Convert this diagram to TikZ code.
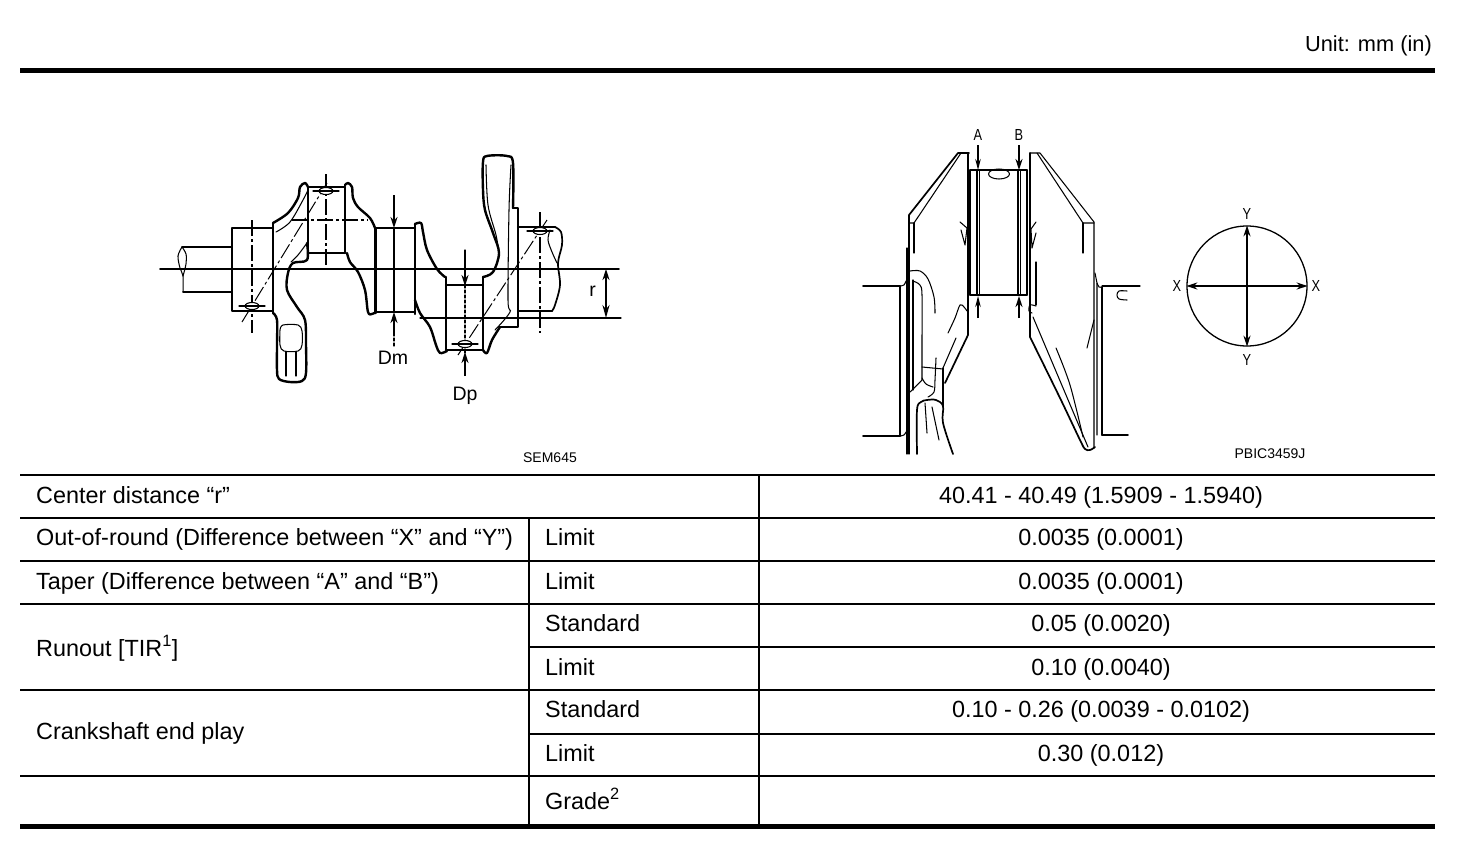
\documentclass[tikz,border=0pt]{standalone}
\usepackage{fontspec}
\setmainfont{Liberation Sans}
\usetikzlibrary{arrows.meta}
\tikzset{
  rule/.style={line width=1.3pt,black},
  rulet/.style={line width=2pt,black},
  heavy/.style={line width=5pt,black},
  bold/.style={line width=2.4pt,black,line join=round,line cap=round},
  med/.style={line width=1.7pt,black,line join=round,line cap=round},
  fine/.style={line width=1.05pt,black,line join=round,line cap=round},
  dd/.style={line width=1pt,black,dash pattern=on 16pt off 3pt on 3pt off 3pt},
  ddv/.style={line width=1.6pt,black,dash pattern=on 16pt off 3pt on 3pt off 3pt},
  cell/.style={font=\fontsize{23.4}{26}\selectfont,inner sep=0pt,anchor=base west},
  cellc/.style={font=\fontsize{23.4}{26}\selectfont,inner sep=0pt,anchor=base},
  dim/.style={font=\fontsize{19.5}{21}\selectfont,inner sep=0pt},
  code/.style={font=\fontsize{14}{16}\selectfont,inner sep=0pt},
  tiplbl/.style={font=\fontsize{16}{18}\selectfont,inner sep=0pt,xscale=.8},
  arr/.style={line width=1.3pt,-{Stealth[length=11pt,width=5.5pt]}},
  arrs/.style={line width=1.8pt,-{Stealth[length=11pt,width=7pt]}},
}
\newcommand{\crv}[2][fine]{\draw[#1] plot[smooth,tension=.55] coordinates {#2};}
\begin{document}
\begin{tikzpicture}[x=1pt,y=-1pt]
\useasboundingbox (0,0) rectangle (1472,844);
\fill[white] (0,0) rectangle (1472,844);
% ---------- rules of the table
\draw[heavy] (20,70.5) -- (1435,70.5);
\draw[heavy] (20,826) -- (1435,826);
\draw[rule] (20,475) -- (1435,475);
\draw[rule] (20,518) -- (1435,518);
\draw[rulet] (20,561) -- (1435,561);
\draw[rule] (20,604) -- (1435,604);
\draw[rulet] (529,647) -- (1435,647);
\draw[rule] (20,690) -- (1435,690);
\draw[rulet] (529,733.5) -- (1435,733.5);
\draw[rule] (20,776) -- (1435,776);
\draw[rulet] (759,475) -- (759,826);
\draw[rulet] (529,518) -- (529,826);
% ---------- table text
\node[font=\fontsize{21.8}{24}\selectfont,inner sep=0pt,anchor=base east] (unit) at (1432,51) {Unit: mm (in)};
\node[cell] (t1) at (36,503) {Center distance “r”};
\node[cell] (t2) at (36,545) {Out-of-round (Difference between “X” and “Y”)};
\node[cell] (t3) at (36,589) {Taper (Difference between “A” and “B”)};
\node[cell] (t4) at (36,656) {Runout [TIR\textsuperscript{1}]};
\node[cell] (t5) at (36,739) {Crankshaft end play};
\node[cell] (s1) at (545,545) {Limit};
\node[cell] (s2) at (545,589) {Limit};
\node[cell] (s3) at (545,631) {Standard};
\node[cell] (s4) at (545,675) {Limit};
\node[cell] (s5) at (545,717) {Standard};
\node[cell] (s6) at (545,761) {Limit};
\node[cell] (s7) at (545,809) {Grade\textsuperscript{2}};
\node[cellc] (v1) at (1101,503) {40.41 - 40.49 (1.5909 - 1.5940)};
\node[cellc] (v2) at (1101,545) {0.0035 (0.0001)};
\node[cellc] (v3) at (1101,589) {0.0035 (0.0001)};
\node[cellc] (v4) at (1101,631) {0.05 (0.0020)};
\node[cellc] (v5) at (1101,675) {0.10 (0.0040)};
\node[cellc] (v6) at (1101,717) {0.10 - 0.26 (0.0039 - 0.0102)};
\node[cellc] (v7) at (1101,761) {0.30 (0.012)};
% ---------- crankshaft, left figure
% centre lines and dimension lines
\draw[med] (160,269) -- (619,269);
\draw[fine] (420,318) -- (621,318);
\draw[ddv] (252,220) -- (252,333);
\draw[ddv] (326,174) -- (326,267);
\draw[ddv] (292,220) -- (368,220);
\draw[ddv] (540,212) -- (540,333);
\draw[fine,densely dashed] (465,250) -- (465,355);
\draw[dd] (242,322) -- (327,183);
\draw[dd] (547,220) -- (458,355);
% stub shaft
\draw[med] (182,247) -- (232,247);
\draw[fine] (183,292) -- (232,292);
\crv{(182,247)(178,256)(180,268)(183,276)(183,292)}
\crv{(182,247)(186,254)(186,264)(183,276)}
% journal 1
\draw[bold] (273,228) -- (232,228) -- (232,311) -- (273,311);
\draw[bold] (273,223) -- (273,313);
% web 1 with counterweight
\crv[bold]{(273,223)(288,213)(298,198)(300,187)(305,183)(308,187)}
\crv[fine]{(276,232)(290,222)(303,200)(308,190)}
\crv[fine]{(307,243)(298,255)(291,262)}
\crv[bold]{(307,243)(307,260)(293,263)(288,273)(287,290)(297,307)(305,320)(306,345)(306,373)(302,381)(290,382)(279,379)(277,370)(277,345)(277,320)(273,313)}
\crv[fine]{(280,330)(283,325)(298,325)(302,331)(302,345)(298,351)(284,351)(280,345)(280,330)}
\draw[fine] (286,352) -- (286,376);
\draw[fine] (296,352) -- (296,376);
% pin 1
\draw[bold] (308,187) -- (345,187);
\draw[bold] (308,253) -- (345,253);
\draw[bold] (308,187) -- (308,253);
\draw[bold] (345,187) -- (345,253);
% right of pin 1
\crv[bold]{(345,185)(348,183)(352,187)(353,198)(358,207)(370,218)(375,228)}
\crv[bold]{(347,253)(350,262)(358,272)(365,290)(368,312)(372,314)(376,312)}
\draw[bold] (375.5,228) -- (375.5,313);
% journal 2
\draw[bold] (376,228) -- (415,228);
\draw[bold] (376,312) -- (415,312);
\draw[bold] (415,224) -- (415,314);
% web 2
\crv[bold]{(415,224)(421,223)(423,232)(427,250)(437,269)(445,277)}
\crv[bold]{(415,300)(420,313)(430,327)(436,345)(440,353)(447,351)}
% pin 2
\draw[bold] (446,277) -- (446,350);
\draw[bold] (483,277) -- (483,350);
\draw[bold] (446,285) -- (483,285);
\draw[bold] (446,350) -- (483,350);
% web 3 with counterweight
\crv[bold]{(483,277)(493,272)(499,253)(493,233)(485,210)(483,190)(483,162)(487,156)(507,156)(513,163)(513,208)}
\draw[bold] (513,208) -- (518,208) -- (518,327) -- (500,327);
\crv[bold]{(483,350)(487,353)(492,340)(500,327)}
\crv[fine]{(486,165)(488,205)(496,235)(499,253)}
\crv[fine]{(511,165)(509,210)(508,300)(510,312)(495,330)}
% journal 3
\draw[bold] (518,227) -- (555,227);
\draw[bold] (518,311) -- (552,311);
\crv[med]{(555,227)(561,232)(562,245)(558,263)(560,285)(555,305)(552,311)}
\crv[fine]{(550,230)(548,240)(552,252)(557,263)}
% ovals and crosses
\foreach \x/\y in {252/306,326/191,465/344,540/231}{
  \draw[fine,fill=white] (\x,\y) ellipse (7pt and 3.5pt);
  \draw[fine] (\x-13,\y) -- (\x+13,\y);
}
% dimension arrows
\coordinate (dma) at (394,195);
\coordinate (dmb) at (394,228);
\coordinate (dmc) at (394,312);
\coordinate (dmd) at (394,333);
\draw[arrs] (dma) -- (dmb);
\draw[fine] (dmb) -- (dmc);
\draw[arrs] (dmd) -- (dmc);
\draw[fine,densely dashed] (dmd) -- (394,346);
\coordinate (dpa) at (465,250);
\coordinate (dpb) at (465,286);
\coordinate (dpc) at (465,376);
\coordinate (dpd) at (465,352);
\draw[arrs] (dpa) -- (dpb);
\draw[arrs] (dpc) -- (dpd);
\coordinate (ra) at (606,269);
\coordinate (rb) at (606,318);
\draw[line width=1.8pt,{Stealth[length=11pt,width=7pt]}-{Stealth[length=13pt,width=7pt]}] (ra) -- (rb);
\node[dim] (dm) at (393,357.5) {Dm};
\node[dim] (dp) at (465,395.5) {Dp};
\node[dim] (r) at (592.5,291) {r};
\node[code] (sem) at (550,458) {SEM645};
% ---------- crankshaft, middle figure
% left shaft
\draw[med] (863,286) -- (900,286);
\draw[med] (863,436) -- (900,436);
\draw[med] (900,286) -- (900,436);
\crv[fine]{(900,286)(904,285)(906,281)}
\crv[fine]{(900,436)(904,435)(906,432)}
\draw[fine] (907,248) -- (907,454);
\draw[fine] (909,215) -- (909,454);
% left web
\draw[med] (969,153) -- (958,153) -- (909,215);
\draw[fine] (961,153) -- (914,223) -- (909,223);
\draw[fine] (914,223) -- (914,253);
\draw[med] (968,153) -- (968,335) -- (945,383);
\draw[fine] (956,338) -- (943,368);
\draw[fine] (970,170) -- (970,295);
\draw[fine] (943,368) -- (943,407);
% pin
\draw[med] (970,170) -- (1027,170);
\draw[med] (970,295) -- (1027,295);
\draw[fine] (977,170) -- (977,295);
\draw[fine] (979.5,170) -- (979.5,295);
\draw[fine] (1018,170) -- (1018,295);
\draw[fine] (1020.5,170) -- (1020.5,295);
\draw[fine] (1027,170) -- (1027,295);
\draw[fine] (999,174) ellipse (10.5pt and 5pt);
% right web
\draw[med] (1030,153) -- (1030,337);
\crv[med]{(1030,337)(1060,398)(1080,440)(1085,449)(1090,450)(1095,447)}
\draw[fine] (1030,153) -- (1040,153) -- (1094,222) -- (1094,448);
\draw[fine] (1037,153) -- (1083,223) -- (1094,223);
\draw[fine] (1083,223) -- (1083,253);
\draw[fine] (1033,317) -- (1088,447);
\crv[fine]{(1056,348)(1070,385)(1083,437)}
\draw[fine] (1094,320) -- (1087,348);
\draw[fine] (1036,262) -- (1036,305);
\crv[fine]{(1036,306)(1030,305)(1029,311)(1032,313)}
% right shaft
\draw[fine] (1095,273) -- (1097,283) -- (1097,435);
\crv[fine]{(1097,283)(1099,287)(1102,287)}
\draw[med] (1102,287) -- (1102,435);
\draw[fine] (1102,286) -- (1140,286);
\draw[med] (1102,435) -- (1128,435);
\crv[fine]{(1127,291)(1119,291)(1117,295)(1119,299)(1127,300)}
% small marks at web faces
\draw[fine] (960,222) -- (967,228) -- (965,245) -- (961,230);
\draw[fine] (1036,222) -- (1031,229) -- (1032,248) -- (1036,233);
% left inner bends
\crv[fine]{(910,271)(920,271)(928,279)(934,297)(935,313)}
\crv[fine]{(913,281)(920,285)(922,295)(922,340)(922,380)}
\draw[fine] (913,280) -- (913,390);
\draw[fine] (922,380) -- (910,392);
\draw[fine] (922,367) -- (943,369);
\crv[fine]{(922,378)(926,384)(933,387)}
\crv[fine]{(936,358)(935,380)(934,392)(928,397)}
\crv[med]{(917,454)(917,410)(921,402)(927,400)(936,400)(943,406)(943,423)(953,454)}
\draw[fine] (925,403) -- (927,433);
\draw[fine] (932,407) -- (939,440);
\crv[fine]{(948,333)(955,318)(960,305)(964,307)(967,311)}
% A/B arrows
\coordinate (aa) at (978,145);
\coordinate (ab) at (978,170);
\coordinate (ac) at (978,318);
\coordinate (ad) at (978,296);
\coordinate (ba) at (1019,145);
\coordinate (bb) at (1019,170);
\coordinate (bc) at (1019,318);
\coordinate (bd) at (1019,296);
\draw[arr] (aa) -- (ab);
\draw[arr] (ac) -- (ad);
\draw[arrs] (ba) -- (bb);
\draw[arrs] (bc) -- (bd);
\node[tiplbl] (lA) at (978,135) {A};
\node[tiplbl] (lB) at (1019,135) {B};
% ---------- circle, right figure
\node[draw,circle,line width=1.3pt,minimum size=120pt,inner sep=0pt] (circ) at (1247,286) {};
\draw[arrs] (circ.center) -- (circ.north);
\draw[arrs] (circ.center) -- (circ.south);
\draw[arrs] (circ.center) -- (circ.west);
\draw[arrs] (circ.center) -- (circ.east);
\node[tiplbl] (xl) at (1177,286) {X};
\node[tiplbl] (xr) at (1316,286) {X};
\node[tiplbl] (yt) at (1247,214) {Y};
\node[tiplbl] (yb) at (1247,360) {Y};
\node[code] (pb) at (1270,454) {PBIC3459J};
\end{tikzpicture}
\end{document}
